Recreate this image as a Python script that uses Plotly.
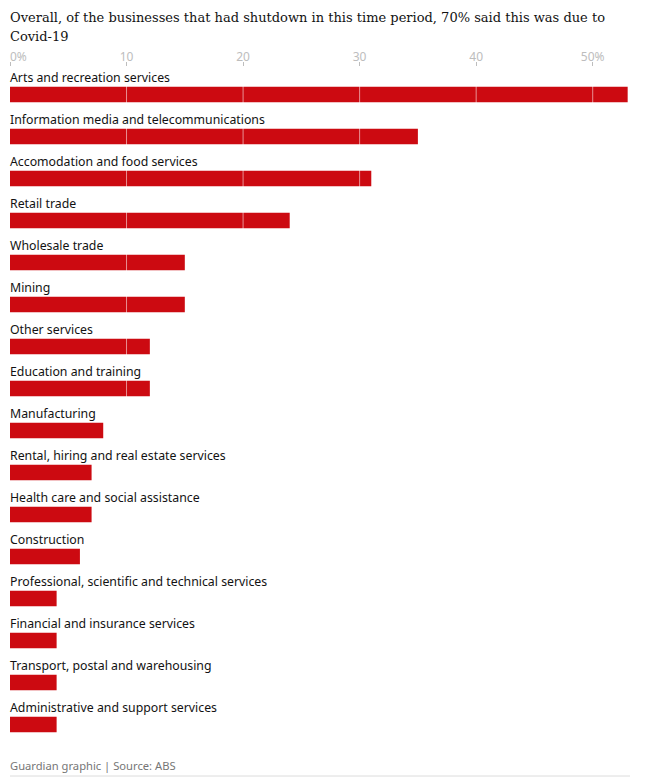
import plotly.graph_objects as go

categories = [
    "Arts and recreation services",
    "Information media and telecommunications",
    "Accomodation and food services",
    "Retail trade",
    "Wholesale trade",
    "Mining",
    "Other services",
    "Education and training",
    "Manufacturing",
    "Rental, hiring and real estate services",
    "Health care and social assistance",
    "Construction",
    "Professional, scientific and technical services",
    "Financial and insurance services",
    "Transport, postal and warehousing",
    "Administrative and support services",
]
values = [53, 35, 31, 24, 15, 15, 12, 12, 8, 7, 7, 6, 4, 4, 4, 4]
tick_vals = [0, 10, 20, 30, 40, 50]
tick_text = ["", "10", "20", "30", "40", "50%"]
first_tick_label = "0%"

title_lines = [
    "Overall, of the businesses that had shutdown in this time period, 70% said this was due to",
    "Covid-19",
]
source = "Guardian graphic | Source: ABS"

# page body has an 8px margin, so the figure is sized to fit inside the window
W, H = 646, 774
ML, MR, MT, MB = 2, 24, 59, 44
plot_h = H - MT - MB
plot_w = W - ML - MR

RED = "#cc0a11"
SANS = "Noto Sans, Open Sans, sans-serif"
SERIF = "DejaVu Serif, serif"


def paper_y(px):
    """figure pixel row -> paper coordinate"""
    return (H - MB - px) / plot_h


fig = go.Figure(go.Bar(
    x=values,
    y=categories,
    orientation="h",
    marker=dict(color=RED, line=dict(width=0)),
    hoverinfo="x+y",
))

annotations = []
for c in categories:
    annotations.append(dict(
        x=0, y=c, xref="x", yref="y", text=c, showarrow=False,
        xanchor="left", yanchor="middle", yshift=17, xshift=-2,
        font=dict(family=SANS, size=12.3, color="#121212"),
    ))

annotations.append(dict(
    x=0, y=1, xref="x", yref="paper", text=first_tick_label, showarrow=False,
    xanchor="left", yanchor="middle", yshift=11, xshift=-2,
    font=dict(family=SANS, size=12, color="#bdbdbd"),
))

for i, line in enumerate(title_lines):
    annotations.append(dict(
        x=0, y=paper_y(10 + 19 * i), xref="paper", yref="paper", text=line,
        showarrow=False, xanchor="left", yanchor="middle", xshift=-2,
        font=dict(family=SERIF, size=13, color="#121212"),
    ))

annotations.append(dict(
    x=0, y=paper_y(757), xref="paper", yref="paper", text=source,
    showarrow=False, xanchor="left", yanchor="middle", xshift=-2,
    font=dict(family=SANS, size=11.2, color="#767676"),
))

shapes = []
for v in tick_vals[1:]:
    shapes.append(dict(
        type="line", xref="x", yref="paper", x0=v, x1=v, y0=0, y1=1,
        line=dict(color="rgba(255,255,255,0.55)", width=1), layer="above",
    ))
shapes.append(dict(
    type="line", xref="paper", yref="paper", x0=0, x1=1,
    y0=paper_y(768), y1=paper_y(768),
    line=dict(color="#dcdcdc", width=1),
))

fig.update_layout(
    width=W, height=H,
    margin=dict(l=ML, r=MR, t=MT, b=MB, pad=0),
    paper_bgcolor="white", plot_bgcolor="white",
    showlegend=False,
    bargap=0.63,
    xaxis=dict(
        side="top", range=[0, 53.2], tickvals=tick_vals, ticktext=tick_text,
        showgrid=False, zeroline=False, showline=False,
        ticks="outside", ticklen=4, tickcolor="#bdbdbd", tickwidth=1,
        ticklabelstandoff=-4,
        tickfont=dict(family=SANS, size=12, color="#bdbdbd"),
        fixedrange=True,
    ),
    yaxis=dict(
        type="category", categoryorder="array", categoryarray=categories,
        range=[15.32, -0.655], showticklabels=False, showgrid=False,
        zeroline=False, showline=False, ticks="", fixedrange=True,
    ),
    annotations=annotations,
    shapes=shapes,
)

fig.write_html("out.html")
